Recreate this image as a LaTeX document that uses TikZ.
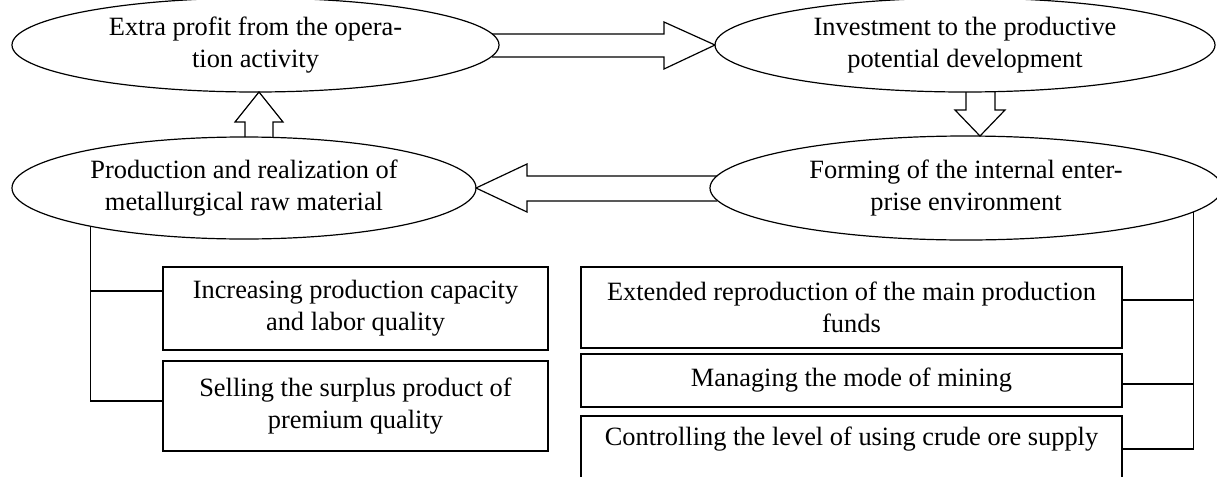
\documentclass[tikz,border=0pt]{standalone}
\usepackage{fontspec}
\setmainfont{Liberation Serif}
\usetikzlibrary{shapes.geometric,calc}
\begin{document}
\begin{tikzpicture}[x=0.5pt,y=-0.5pt,line width=0.6pt,
        oval/.style={draw, ellipse, inner sep=1pt, outer sep=0pt, align=center, font=\fontsize{13.2}{16}\selectfont},
        box/.style={draw, rectangle, inner sep=2pt, outer sep=0pt, align=center, font=\fontsize{13.2}{16}\selectfont},
        hollow/.style={line join=miter}]
        \useasboundingbox (0,0) rectangle (1217,477);
        \clip (0,0) rectangle (1217,477);
        \node[oval, minimum width=243.5pt, minimum height=47pt] (A) at (255.5,45) {Extra profit from the opera-\\tion activity};
        \node[oval, minimum width=250pt, minimum height=47pt] (B) at (965,45) {Investment to the productive\\potential development};
        \node[oval, minimum width=256pt, minimum height=52pt] (C) at (966,188) {Forming of the internal enter-\\prise environment};
        \node[oval, minimum width=232pt, minimum height=51pt] (D) at (244,188) {Production and realization of\\metallurgical raw material};
        \node[box, minimum width=192.5pt, minimum height=41.5pt] (L1) at (355.5,308.5) {Increasing production capacity\\and labor quality};
        \node[box, minimum width=192.5pt, minimum height=45pt] (L2) at (355.5,406) {Selling the surplus product of\\premium quality};
        \node[box, minimum width=270.5pt, minimum height=40.5pt] (R1) at (851.5,307.5) {Extended reproduction of the main production\\funds};
        \node[box, minimum width=270.5pt, minimum height=26.5pt] (R2) at (851.5,380.5) {Managing the mode of mining};
        \node[box, minimum width=270.5pt, minimum height=40.5pt] (R3) at (851.5,456.5) {Controlling the level of using crude ore supply\\\strut};
        \draw[hollow] ($(A.east)+(-7,-11)$) -- ($(B.west)+(-51,-11)$) -- ++(0,-12) -- (B.west) -- ++(-51,24) -- ++(0,-12) -- ($(A.east)+(-7,12)$);
        \draw[hollow] ($(B.south)+(1,0)$) -- ++(0,18) -- ++(-11,0) -- ($(C.north)+(14,0)$) -- ++(25,-26) -- ++(-10,0) -- ++(0,-18);
        \draw[hollow] ($(C.west)+(7,-12)$) -- ($(D.east)+(51,-12)$) -- ++(0,-12) -- (D.east) -- ++(51,24) -- ++(0,-11) -- ($(C.west)+(7,13)$);
        \draw[hollow] ($(D.north)+(1,0)$) -- ++(0,-15) -- ++(-10,0) -- ($(A.south)+(3.5,0)$) -- ++(24,30) -- ++(-10,0) -- ++(0,15);
        \coordinate (l1) at ($(L1.west)+(0,-17.5)$);
        \coordinate (l2) at ($(L2.west)+(0,-5)$);
        \draw (D.194) |- (l2);
        \draw (l1) -- (l1 -| D.194);
        \coordinate (r1) at ($(R1.east)+(0,-7.5)$);
        \coordinate (r2) at ($(R2.east)+(0,3.5)$);
        \coordinate (r3) at ($(R3.east)+(0,-7.5)$);
        \draw (C.-6) |- (r3);
        \draw (r1) -- (r1 -| C.-6);
        \draw (r2) -- (r2 -| C.-6);
\end{tikzpicture}
\end{document}
